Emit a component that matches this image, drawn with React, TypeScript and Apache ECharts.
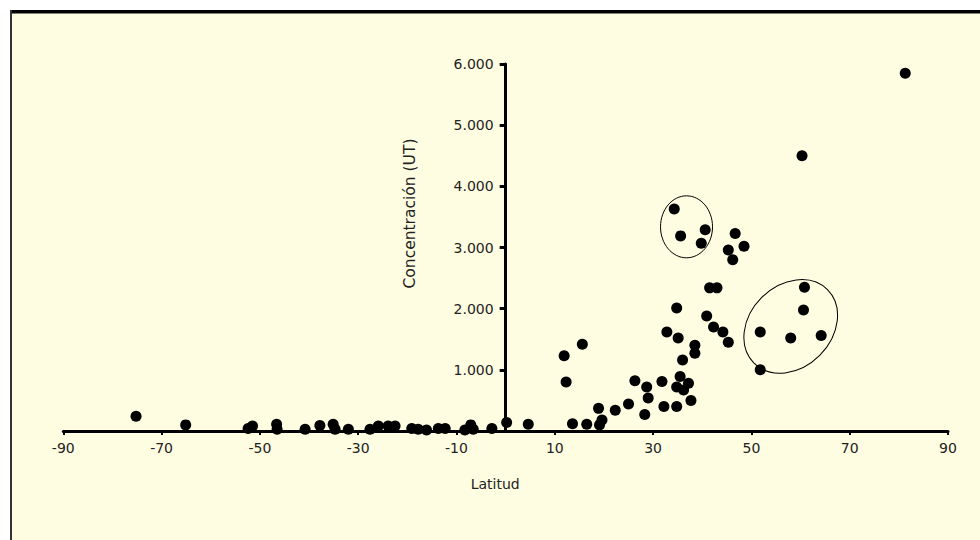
import React, { useEffect, useRef } from 'react';
import * as echarts from 'echarts';

// Tick labels on the latitude axis
const xTickValues = [-90, -70, -50, -30, -10, 10, 30, 50, 70, 90];
const xMin = -90;
const xMax = 90;
const yMin = 0;
const yMax = 6000;
const yStep = 1000;

// Latitude of each sample
const latitud = [
  -75.2, -65.1, -52.4, -51.5, -46.6, -46.5, -40.8, -37.8, -35.1, -34.7,
  -32.0, -27.6, -25.9, -23.9, -22.5, -19.1, -17.8, -16.1, -13.7, -12.3,
  -8.3, -7.1, -6.6, -2.8, 0.2, 4.6,
  12.3, 11.9, 15.6, 13.6, 16.5, 18.9, 19.6, 19.1, 22.3, 25.0,
  26.3, 28.3, 28.7, 29.0, 31.8, 32.2, 34.8, 35.5, 34.8, 37.2,
  36.2, 37.7, 32.8, 35.1, 38.5, 38.5, 36.0, 34.8, 40.9, 42.3,
  44.2, 45.3, 41.5, 43.0, 34.3, 35.6, 40.6, 39.8, 46.7, 45.3,
  48.5, 46.2, 60.8, 60.6, 51.8, 58.0, 64.2, 51.8, 60.3, 81.3,
];

// Concentration (UT) of each sample
const concentracion = [
  240, 100, 40, 80, 110, 30, 30, 90, 110, 30,
  30, 30, 80, 80, 80, 40, 30, 15, 40, 40,
  15, 100, 30, 40, 140, 110,
  800, 1230, 1420, 120, 110, 370, 180, 100, 340, 440,
  820, 270, 720, 540, 810, 400, 400, 890, 720, 780,
  670, 500, 1620, 1520, 1400, 1270, 1160, 2010, 1880, 1700,
  1620, 1450, 2340, 2340, 3630, 3190, 3290, 3070, 3230, 2960,
  3020, 2800, 2350, 1980, 1620, 1520, 1560, 1000, 4500, 5850,
];

// Centres (data units) of the two hand-drawn ellipses
const ellipseCentres = [
  [36.8, 3338],
  [58.0, 1710],
];

function fmtThousands(v: number): string {
  if (v === 0) return '';
  return String(v).replace(/\B(?=(\d{3})+(?!\d))/g, '.');
}

const W = 980;
const H = 540;
const GRID = { left: 63.3, right: 32, top: 64, bottom: 109 };

export default function App() {
  const ref = useRef<HTMLDivElement>(null);

  useEffect(() => {
    if (!ref.current) return;
    const chart = echarts.init(ref.current, null, { renderer: 'svg' });
    const font = 'DejaVu Sans';
    const cream = '#FFFDE1';
    const gridWidth = W - GRID.left - GRID.right;
    // shift the value axis so that it sits at latitude 0
    const yOffset = -gridWidth * (0 - xMin) / (xMax - xMin);

    chart.setOption({
      animation: false,
      backgroundColor: '#ffffff',
      textStyle: { fontFamily: font },
      grid: { ...GRID, containLabel: false, outerBoundsMode: 'none' },
      xAxis: {
        type: 'value',
        min: xMin,
        max: xMax,
        name: 'Latitud',
        nameLocation: 'middle',
        nameGap: 46,
        nameTextStyle: { color: '#222', fontSize: 14, fontFamily: font, padding: [0, 21, 0, 0] },
        axisLine: { show: true, onZero: false, lineStyle: { color: '#000', width: 3 } },
        axisTick: { show: true, customValues: xTickValues, length: 4, lineStyle: { color: '#000', width: 2 } },
        axisLabel: { show: true, customValues: xTickValues, margin: 10, color: '#222', fontSize: 14, fontFamily: font },
        splitLine: { show: false },
      },
      yAxis: {
        type: 'value',
        min: yMin,
        max: yMax,
        interval: yStep,
        offset: yOffset,
        name: 'Concentración (UT)',
        nameLocation: 'middle',
        nameGap: 88,
        nameRotate: 90,
        nameTextStyle: { color: '#222', fontSize: 15.5, fontFamily: font, padding: [0, 0, 0, 68] },
        axisLine: { show: true, onZero: false, lineStyle: { color: '#000', width: 3 } },
        axisTick: { show: true, length: 6, lineStyle: { color: '#000', width: 3 } },
        axisLabel: { show: true, formatter: fmtThousands, margin: 12, color: '#222', fontSize: 14, fontFamily: font },
        splitLine: { show: false },
      },
      series: [
        {
          type: 'scatter',
          data: latitud.map((x, i) => [x, concentracion[i]]),
          symbol: 'circle',
          symbolSize: 11,
          itemStyle: { color: '#000', opacity: 1 },
          z: 5,
        },
      ],
    });

    const p1 = chart.convertToPixel({ gridIndex: 0 }, ellipseCentres[0]) as number[];
    const p2 = chart.convertToPixel({ gridIndex: 0 }, ellipseCentres[1]) as number[];

    chart.setOption({
      graphic: [
        { type: 'rect', z: -10, silent: true, shape: { x: 11, y: 13, width: 980, height: 540 }, style: { fill: cream } },
        { type: 'rect', z: -9, silent: true, shape: { x: 10, y: 10, width: 980, height: 3.5 }, style: { fill: '#000' } },
        { type: 'rect', z: -9, silent: true, shape: { x: 10, y: 10, width: 2, height: 540 }, style: { fill: '#333' } },
        {
          type: 'ellipse', z: 10, silent: true,
          x: p1[0], y: p1[1],
          shape: { cx: 0, cy: 0, rx: 26, ry: 31 },
          style: { fill: 'none', stroke: '#000', lineWidth: 1 },
        },
        {
          type: 'ellipse', z: 10, silent: true,
          x: p2[0], y: p2[1], rotation: Math.PI / 4,
          shape: { cx: 0, cy: 0, rx: 52, ry: 41 },
          style: { fill: 'none', stroke: '#000', lineWidth: 1 },
        },
      ],
    });

    return () => chart.dispose();
  }, []);

  return (
    <div style={{ position: 'fixed', left: 0, top: 0, width: W, height: H }}>
      <div ref={ref} style={{ width: W, height: H }} />
    </div>
  );
}
